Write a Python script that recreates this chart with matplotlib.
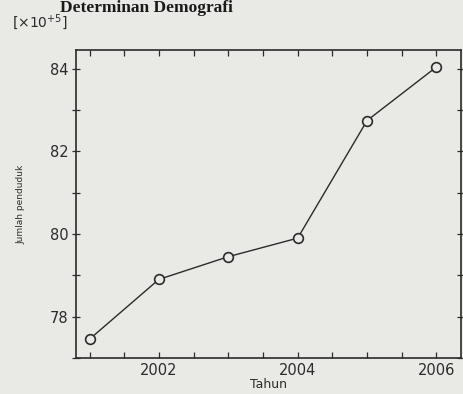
import matplotlib.pyplot as plt
import numpy as np

# Data (population in units of 10^5)
years = [2001, 2002, 2003, 2004, 2005, 2006]
population = [77.45, 78.9, 79.45, 79.9, 82.75, 84.05]

x_labels = {2002: "2002", 2004: "2004", 2006: "2006"}
y_major = [78, 80, 82, 84]
y_minor = [77, 79, 81, 83]

# Paper-like background
paper = "#e9e9e6"
ink = "#2b2b2b"

fig = plt.figure(figsize=(4.64, 3.94), dpi=100, facecolor=paper)
ax = fig.add_axes([0.163, 0.092, 0.830, 0.780], facecolor=paper)

# Line with open circle markers
ax.plot(years, population, color=ink, lw=1.0, marker="o", markersize=7,
        markerfacecolor=paper, markeredgecolor=ink, markeredgewidth=1.2)

ax.set_xlim(2000.8, 2006.35)
ax.set_ylim(77.1, 84.45)

# X ticks every half year, labels only on even years
x_ticks = np.arange(2001, 2006.01, 0.5)
ax.set_xticks(x_ticks)
ax.set_xticklabels([x_labels.get(int(t), "") if t == int(t) else "" for t in x_ticks])

ax.set_yticks(y_major)
ax.set_yticks(y_minor, minor=True)

ax.tick_params(axis="x", direction="in", top=True, length=4, width=0.9,
               colors=ink, labelsize=10.5, pad=4)
ax.tick_params(axis="y", which="both", direction="inout", right=True,
               length=6, width=0.9, colors=ink, labelsize=10.5, pad=2)

for spine in ax.spines.values():
    spine.set_color(ink)
    spine.set_linewidth(1.2)

ax.set_xlabel("Tahun", fontsize=9, color=ink, labelpad=0)
ax.set_ylabel("Jumlah penduduk", fontsize=6.5, color=ink, labelpad=18)

# Multiplier annotation
fig.text(0.025, 0.945, r"[$\times$10$^{+5}$]", fontsize=10, color=ink,
         ha="left", va="center")

# Page header at the top of the page
fig.text(0.13, 0.999, "Determinan Demografi", fontsize=12.5, fontweight="bold",
         family="Liberation Serif", color="#1a1a1a", ha="left", va="top")

fig.savefig("out.png", dpi=100, facecolor=paper)
